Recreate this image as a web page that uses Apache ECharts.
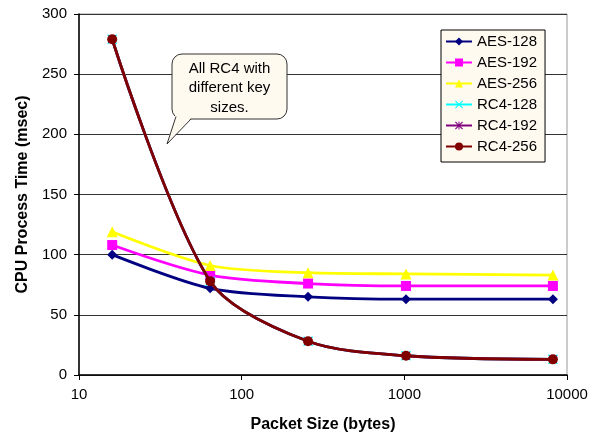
<!DOCTYPE html>
<html>
<head>
<meta charset="utf-8">
<script src="https://cdn.jsdelivr.net/npm/echarts@6/dist/echarts.min.js"></script>
<style>html,body{margin:0;padding:0;background:#fff;}#chart{width:602px;height:439px;}</style>
</head>
<body>
<div id="chart"></div>
<script>
// ---- data ----
const packetSizes = [16, 64, 256, 1024, 8192];
const aes128 = [100, 72, 65, 63, 63];
const aes192 = [108, 83, 76, 74, 74];
const aes256 = [119, 91, 85, 84, 83];
const rc4_128 = [279, 78, 28, 16, 13];
const rc4_192 = [279, 78, 28, 16, 13];
const rc4_256 = [279, 78, 28, 16, 13];
const seriesNames = ['AES-128', 'AES-192', 'AES-256', 'RC4-128', 'RC4-192', 'RC4-256'];
const xTicks = [10, 100, 1000, 10000];
const yTicks = [0, 50, 100, 150, 200, 250, 300];
const calloutText = 'All RC4 with\ndifferent key\nsizes.';

const FONT = '"Liberation Sans", Arial, sans-serif';
const xShape = 'path://M1,0L5,4L9,0L10,1L6,5L10,9L9,10L5,6L1,10L0,9L4,5L0,1Z';
const starShape = 'path://M1,0L4.4,3.4L4.4,0L5.6,0L5.6,3.4L9,0L10,1L6.6,4.4L10,4.4L10,5.6L6.6,5.6L10,9L9,10L5.6,6.6L5.6,10L4.4,10L4.4,6.6L1,10L0,9L3.4,5.6L0,5.6L0,4.4L3.4,4.4L0,1Z';

function pairs(vals) { return packetSizes.map((x, i) => [x, vals[i]]); }

const styles = [
  { data: aes128, color: '#000080', symbol: 'diamond', size: 10 },
  { data: aes192, color: '#FF00FF', symbol: 'rect', size: 10 },
  { data: aes256, color: '#FFFF00', symbol: 'triangle', size: 11 },
  { data: rc4_128, color: '#00FFFF', symbol: xShape, size: 10 },
  { data: rc4_192, color: '#800080', symbol: starShape, size: 8 },
  { data: rc4_256, color: '#800000', symbol: 'circle', size: 10 }
];

const series = styles.map((s, i) => ({
  name: seriesNames[i],
  type: 'line',
  data: pairs(s.data),
  smooth: 0.3,
  symbol: s.symbol,
  symbolSize: s.size,
  showAllSymbol: true,
  lineStyle: { color: s.color, width: 2.8 },
  itemStyle: { color: s.color },
  emphasis: { disabled: true },
  z: 2 + i
}));

const CREAM = '#FFFAF0';
const chart = echarts.init(document.getElementById('chart'), null, { renderer: 'canvas' });
chart.setOption({
  animation: false,
  backgroundColor: '#fff',
  textStyle: { fontFamily: FONT },
  grid: { left: 79, top: 14, right: 35, bottom: 64, show: true, borderColor: '#999', borderWidth: 1, backgroundColor: '#fff' },
  xAxis: {
    type: 'log', logBase: 10, min: xTicks[0], max: xTicks[xTicks.length - 1],
    name: 'Packet Size (bytes)', nameLocation: 'middle', nameGap: 42,
    nameTextStyle: { fontSize: 16, fontWeight: 'bold', color: '#000', fontFamily: FONT },
    axisLine: { lineStyle: { color: '#000', width: 1.5 } },
    axisTick: { show: true, inside: false, length: 5, lineStyle: { color: '#000' } },
    minorTick: { show: false },
    axisLabel: { fontSize: 15, color: '#000', margin: 12, fontFamily: FONT, formatter: v => String(Math.round(v)) },
    splitLine: { show: false }
  },
  yAxis: {
    type: 'value', min: yTicks[0], max: yTicks[yTicks.length - 1], interval: 50,
    name: 'CPU Process Time (msec)', nameLocation: 'middle', nameGap: 41,
    nameTextStyle: { fontSize: 16, fontWeight: 'bold', color: '#000', fontFamily: FONT },
    axisLine: { show: true, lineStyle: { color: '#000', width: 1.5 } },
    axisTick: { show: true, inside: false, length: 5, lineStyle: { color: '#000' } },
    axisLabel: { fontSize: 15, color: '#000', margin: 12, fontFamily: FONT },
    splitLine: { show: true, lineStyle: { color: '#333', width: 1 } }
  },
  legend: {
    orient: 'vertical', left: 441, top: 30,
    data: seriesNames,
    backgroundColor: CREAM, borderColor: '#000', borderWidth: 1,
    padding: [4, 8, 8, 4], itemGap: 6, itemWidth: 26, itemHeight: 10,
    textStyle: { fontSize: 15, color: '#000', lineHeight: 15, fontFamily: FONT }
  },
  graphic: [
    {
      type: 'rect', z: 100,
      shape: { x: 172, y: 54, width: 115, height: 65, r: 10 },
      style: { fill: CREAM, stroke: '#333', lineWidth: 1 }
    },
    {
      type: 'polygon', z: 101,
      shape: { points: [[176, 113], [167, 144], [191, 118], [186, 116]] },
      style: { fill: CREAM, stroke: null }
    },
    {
      type: 'polyline', z: 102,
      shape: { points: [[176, 116.5], [167, 144], [191, 119]] },
      style: { stroke: '#333', lineWidth: 1, fill: null }
    },
    {
      type: 'text', z: 103, x: 229.5, y: 59,
      style: { text: calloutText, fill: '#000', font: '15px ' + FONT, align: 'center', verticalAlign: 'top', lineHeight: 19.5 }
    }
  ],
  series: series
});
</script>
</body>
</html>
